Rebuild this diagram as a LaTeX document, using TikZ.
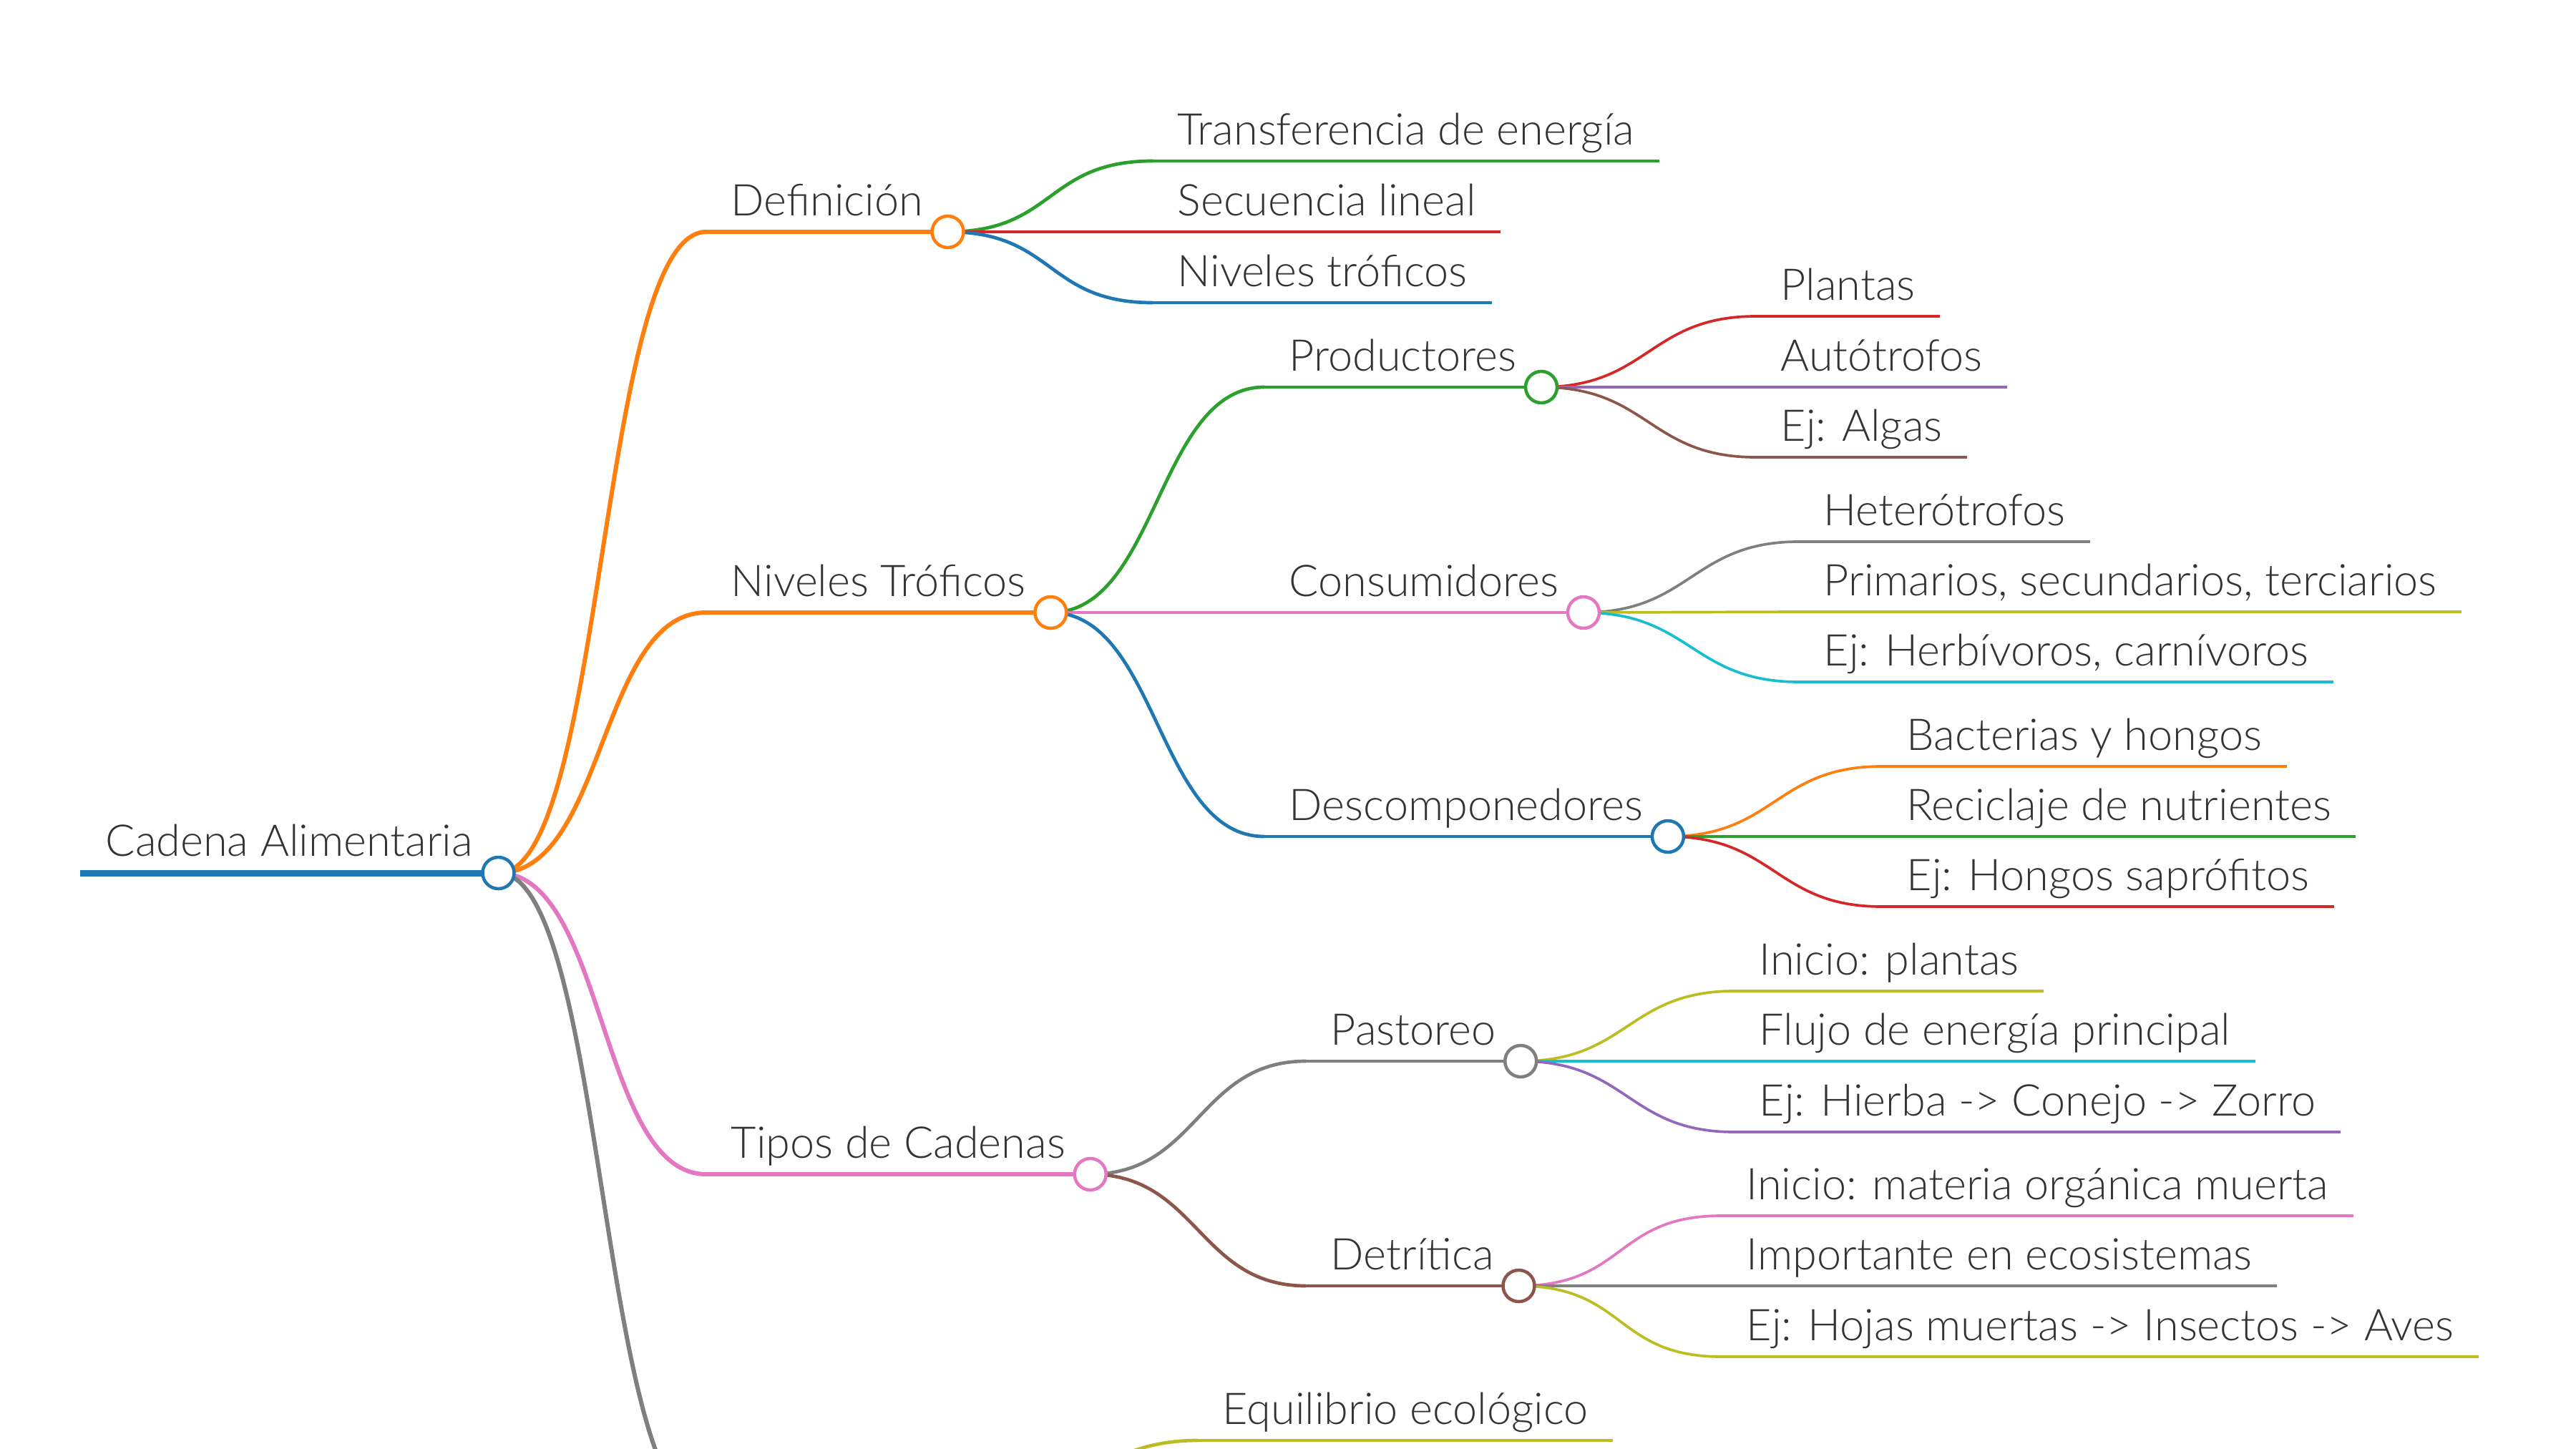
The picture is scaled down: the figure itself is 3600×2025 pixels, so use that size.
\documentclass[tikz,border=0pt]{standalone}
\usepackage{fontspec}
\setmainfont{Lato Light}
\usepackage{tikz}
\usetikzlibrary{calc}
\definecolor{mmblue}{HTML}{1F77B4}
\definecolor{mmorange}{HTML}{FF7F0E}
\definecolor{mmgreen}{HTML}{2CA02C}
\definecolor{mmred}{HTML}{D62728}
\definecolor{mmpurple}{HTML}{9467BD}
\definecolor{mmbrown}{HTML}{8C564B}
\definecolor{mmpink}{HTML}{E377C2}
\definecolor{mmgray}{HTML}{7F7F7F}
\definecolor{mmolive}{HTML}{BCBD22}
\definecolor{mmcyan}{HTML}{17BECF}
\definecolor{ink}{HTML}{333333}
\newdimen\px \px=0.1mm
\tikzset{
  topic/.style={
    anchor=south west, inner xsep=34\px, inner ysep=22\px,
    text depth=0pt, text=ink,
    font=\fontsize{17.4}{20}\selectfont
  },
  lvlzero/.style={line width=9\px, color=#1},
  lvlzero/.default=mmblue,
  lvlone/.style={line width=6\px, color=#1},
  lvlone/.default=mmorange,
  lvltwo/.style={line width=4.7\px, color=#1},
  lvltwo/.default=mmgreen,
  lvlthree/.style={line width=3.7\px, color=#1},
  lvlthree/.default=mmred,
  knot/.style={
    circle, draw=#1, fill=white, line width=4.5\px,
    minimum size=44\px, inner sep=0pt
  },
  knot/.default=mmblue,
  link/.style={to path={.. controls +(150,0) and +(-150,0) .. (\tikztotarget)}},
}

\begin{document}
\begin{tikzpicture}[x=0.1mm, y=-0.1mm]
  \useasboundingbox (0,0) rectangle (3600,2025);
  \clip (0,0) rectangle (3600,2025);

  % root
  \node[topic, inner xsep=35\px, inner ysep=23\px] (root) at (112,1220) {Cadena Alimentaria};

  % first level
  \node[topic] (def) at (987,324) {Definición};
  \node[topic] (niv) at (987,856) {Niveles Tróficos};
  \node[topic] (tip) at (987,1641) {Tipos de Cadenas};
  \coordinate (imp) at (987,2112);
  \coordinate (imp-k) at (1350,2112);

  % Definicion
  \node[topic] (transf) at (1611,225) {Transferencia de energía};
  \node[topic] (secu) at (1611,324) {Secuencia lineal};
  \node[topic] (nivt) at (1611,423) {Niveles tróficos};

  % Niveles Troficos
  \node[topic] (prod) at (1767,541) {Productores};
  \node[topic] (cons) at (1767,856) {Consumidores};
  \node[topic] (desc) at (1767,1169) {Descomponedores};
  \node[topic] (plan) at (2454,442) {Plantas};
  \node[topic] (auto) at (2454,541) {Autótrofos};
  \node[topic] (alga) at (2454,639) {Ej: Algas};
  \node[topic] (hete) at (2514,757) {Heterótrofos};
  \node[topic] (prim) at (2514,855) {Primarios, secundarios, terciarios};
  \node[topic] (herb) at (2514,953) {Ej: Herbívoros, carnívoros};
  \node[topic] (bact) at (2630,1071) {Bacterias y hongos};
  \node[topic] (reci) at (2630,1169) {Reciclaje de nutrientes};
  \node[topic] (hong) at (2630,1267) {Ej: Hongos saprófitos};

  % Tipos de Cadenas
  \node[topic] (past) at (1825,1483) {Pastoreo};
  \node[topic] (detr) at (1825,1797) {Detrítica};
  \node[topic] (inip) at (2424,1385) {Inicio: plantas};
  \node[topic] (fluj) at (2424,1483) {Flujo de energía principal};
  \node[topic] (hier) at (2424,1582) {Ej: Hierba -> Conejo -> Zorro};
  \node[topic] (inim) at (2406,1699) {Inicio: materia orgánica muerta};
  \node[topic] (impo) at (2406,1797) {Importante en ecosistemas};
  \node[topic] (hoja) at (2406,1896) {Ej: Hojas muertas -> Insectos -> Aves};

  % last branch, mostly below the page
  \node[topic] (equi) at (1674,2013) {Equilibrio ecológico};

  % links
  \draw[lvlone=mmorange] (root.south east) to[link] (def.south west);
  \draw[lvlone=mmorange] (root.south east) to[link] (niv.south west);
  \draw[lvlone=mmpink] (root.south east) to[link] (tip.south west);
  \draw[lvlone=mmgray] (root.south east) to[link] (imp);
  \draw[lvltwo=mmgreen] (def.south east) to[link] (transf.south west);
  \draw[lvltwo=mmred] (def.south east) to[link] (secu.south west);
  \draw[lvltwo=mmblue] (def.south east) to[link] (nivt.south west);
  \draw[lvltwo=mmgreen] (niv.south east) to[link] (prod.south west);
  \draw[lvltwo=mmpink] (niv.south east) to[link] (cons.south west);
  \draw[lvltwo=mmblue] (niv.south east) to[link] (desc.south west);
  \draw[lvlthree=mmred] (prod.south east) to[link] (plan.south west);
  \draw[lvlthree=mmpurple] (prod.south east) to[link] (auto.south west);
  \draw[lvlthree=mmbrown] (prod.south east) to[link] (alga.south west);
  \draw[lvlthree=mmgray] (cons.south east) to[link] (hete.south west);
  \draw[lvlthree=mmolive] (cons.south east) to[link] (prim.south west);
  \draw[lvlthree=mmcyan] (cons.south east) to[link] (herb.south west);
  \draw[lvlthree=mmorange] (desc.south east) to[link] (bact.south west);
  \draw[lvlthree=mmgreen] (desc.south east) to[link] (reci.south west);
  \draw[lvlthree=mmred] (desc.south east) to[link] (hong.south west);
  \draw[lvltwo=mmgray] (tip.south east) to[link] (past.south west);
  \draw[lvltwo=mmbrown] (tip.south east) to[link] (detr.south west);
  \draw[lvlthree=mmolive] (past.south east) to[link] (inip.south west);
  \draw[lvlthree=mmcyan] (past.south east) to[link] (fluj.south west);
  \draw[lvlthree=mmpurple] (past.south east) to[link] (hier.south west);
  \draw[lvlthree=mmpink] (detr.south east) to[link] (inim.south west);
  \draw[lvlthree=mmgray] (detr.south east) to[link] (impo.south west);
  \draw[lvlthree=mmolive] (detr.south east) to[link] (hoja.south west);
  \draw[lvltwo=mmolive] (imp-k) to[link] (equi.south west);

  % underlines
  \draw[lvlzero=mmblue] (root.south west) -- (root.south east);
  \draw[lvlone=mmorange] (def.south west) -- (def.south east);
  \draw[lvlone=mmorange] (niv.south west) -- (niv.south east);
  \draw[lvlone=mmpink] (tip.south west) -- (tip.south east);
  \draw[lvlone=mmgray] (imp) -- (imp-k);
  \draw[lvltwo=mmgreen] (transf.south west) -- (transf.south east);
  \draw[lvltwo=mmred] (secu.south west) -- (secu.south east);
  \draw[lvltwo=mmblue] (nivt.south west) -- (nivt.south east);
  \draw[lvltwo=mmgreen] (prod.south west) -- (prod.south east);
  \draw[lvltwo=mmpink] (cons.south west) -- (cons.south east);
  \draw[lvltwo=mmblue] (desc.south west) -- (desc.south east);
  \draw[lvlthree=mmred] (plan.south west) -- (plan.south east);
  \draw[lvlthree=mmpurple] (auto.south west) -- (auto.south east);
  \draw[lvlthree=mmbrown] (alga.south west) -- (alga.south east);
  \draw[lvlthree=mmgray] (hete.south west) -- (hete.south east);
  \draw[lvlthree=mmolive] (prim.south west) -- (prim.south east);
  \draw[lvlthree=mmcyan] (herb.south west) -- (herb.south east);
  \draw[lvlthree=mmorange] (bact.south west) -- (bact.south east);
  \draw[lvlthree=mmgreen] (reci.south west) -- (reci.south east);
  \draw[lvlthree=mmred] (hong.south west) -- (hong.south east);
  \draw[lvltwo=mmgray] (past.south west) -- (past.south east);
  \draw[lvltwo=mmbrown] (detr.south west) -- (detr.south east);
  \draw[lvlthree=mmolive] (inip.south west) -- (inip.south east);
  \draw[lvlthree=mmcyan] (fluj.south west) -- (fluj.south east);
  \draw[lvlthree=mmpurple] (hier.south west) -- (hier.south east);
  \draw[lvlthree=mmpink] (inim.south west) -- (inim.south east);
  \draw[lvlthree=mmgray] (impo.south west) -- (impo.south east);
  \draw[lvlthree=mmolive] (hoja.south west) -- (hoja.south east);
  \draw[lvltwo=mmolive] (equi.south west) -- (equi.south east);

  % knots
  \node[knot=mmblue] (root-k) at (root.south east) {};
  \node[knot=mmorange] (def-k) at (def.south east) {};
  \node[knot=mmorange] (niv-k) at (niv.south east) {};
  \node[knot=mmpink] (tip-k) at (tip.south east) {};
  \node[knot=mmgreen] (prod-k) at (prod.south east) {};
  \node[knot=mmpink] (cons-k) at (cons.south east) {};
  \node[knot=mmblue] (desc-k) at (desc.south east) {};
  \node[knot=mmgray] (past-k) at (past.south east) {};
  \node[knot=mmbrown] (detr-k) at (detr.south east) {};
\end{tikzpicture}
\end{document}
